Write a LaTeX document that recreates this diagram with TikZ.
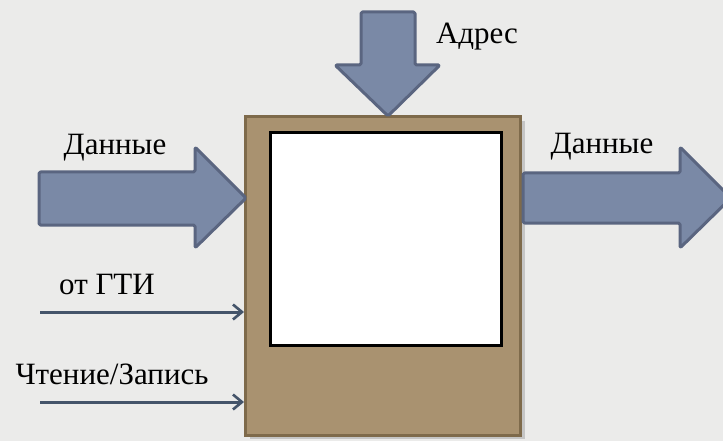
\documentclass[tikz,border=0pt]{standalone}
\usepackage{fontspec}
\setmainfont{Liberation Serif}
\newfontfamily\tnr{Liberation Serif}
\usetikzlibrary{shadows,arrows.meta}
\definecolor{paper}{HTML}{EBEBEA}
\definecolor{brownfill}{HTML}{A99270}
\definecolor{browndraw}{HTML}{7E6A4B}
\definecolor{arrfill}{HTML}{7A89A6}
\definecolor{arrdraw}{HTML}{5A6580}
\definecolor{thinline}{HTML}{44546A}
\tikzset{
  bigarrow/.style={fill=arrfill, draw=arrdraw, line width=3pt, line join=round, rounded corners=1.5pt},
  lbl/.style={font=\tnr\fontsize{31}{36}\selectfont, inner sep=0pt, text=black},
  thinarrow/.style={draw=thinline, line width=3pt, -{Straight Barb[length=9pt,width=15pt,line width=2.6pt]}},
}
\begin{document}
\begin{tikzpicture}[x=1pt,y=-1pt]
\fill[paper] (0,0) rectangle (723,441);
\useasboundingbox (0,0) rectangle (723,441);
\begin{scope}
\clip (0,0) rectangle (723,441);
% memory box
\node (mem) [draw=browndraw, fill=brownfill, line width=3pt, minimum width=275pt, minimum height=318pt, inner sep=0pt,
  drop shadow={shadow xshift=4pt, shadow yshift=-4pt, opacity=0.35}] at (383,276) {};
\node (cell) [draw=black, fill=white, line width=3pt, minimum width=231pt, minimum height=212pt, inner sep=0pt] at (386,239) {};
% top arrow
\path[bigarrow] (361,12) -- (415,12) -- (415,65) -- (440,65) -- (388,116) -- (335,65) -- (361,65) -- cycle;
% left arrow
\path[bigarrow] (39,172) -- (195,172) -- (195,147) -- (246,198) -- (195,248) -- (195,225) -- (39,225) -- cycle;
% right arrow
\path[bigarrow] (523,173) -- (680,173) -- (680,147) -- (731,198) -- (680,248) -- (680,223) -- (523,223) -- cycle;
\end{scope}
% labels
\node[lbl] (addr) at (477,37) {Адрес};
\node[lbl] (din) at (115,148) {Данные};
\node[lbl] (dout) at (602,147) {Данные};
\node[lbl] (gti) at (107,285) {от ГТИ};
\node[lbl] (rw) at (112,374) {Чтение/Запись};
% thin arrows
\coordinate (g1) at (40,312);
\coordinate (g2) at (40,402);
\draw[thinarrow] (g1) -- (g1 -| mem.west);
\draw[thinarrow] (g2) -- (g2 -| mem.west);
\end{tikzpicture}
\end{document}
